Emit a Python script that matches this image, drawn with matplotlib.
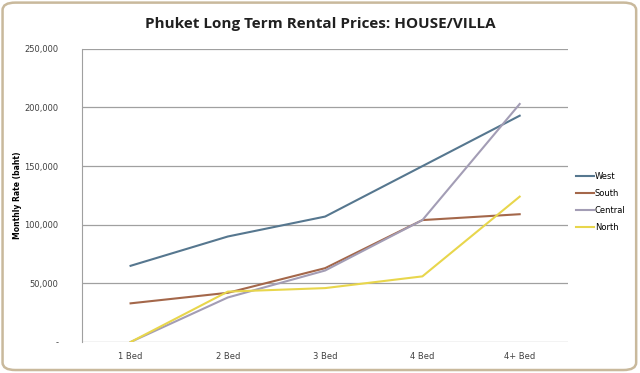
import numpy as np
import matplotlib.pyplot as plt
from matplotlib.patches import FancyBboxPatch
from matplotlib.ticker import FuncFormatter

categories = ["1 Bed", "2 Bed", "3 Bed", "4 Bed", "4+ Bed"]
west = [65000, 90000, 107000, 150000, 193000]
south = [33000, 42000, 63000, 104000, 109000]
central = [0, 38000, 61000, 104000, 203000]
north = [0, 43000, 46000, 56000, 124000]

series = [("West", west, "#56778f"),
          ("South", south, "#a4674a"),
          ("Central", central, "#a39db5"),
          ("North", north, "#e8d64c")]

fig = plt.figure(figsize=(6.4, 3.73), dpi=100)
fig.patch.set_facecolor("white")

# beige rounded frame around the chart
frame = FancyBboxPatch((0.004, 0.008), 0.99, 0.985, boxstyle="round,pad=0,rounding_size=0.02",
                       transform=fig.transFigure, facecolor="none", edgecolor="#c9b99c", lw=1.8,
                       zorder=5)
fig.patches.append(frame)

ax = fig.add_axes([0.128, 0.083, 0.76, 0.786])
x = np.arange(len(categories))
for name, vals, col in series:
    ax.plot(x, vals, color=col, lw=1.5, label=name)

ax.set_xlim(-0.5, 4.5)
ax.set_ylim(0, 250000)
ax.set_yticks(np.arange(0, 250001, 50000))
ax.yaxis.set_major_formatter(FuncFormatter(lambda v, p: "-" if v == 0 else f"{int(v):,}"))
ax.set_xticks(x)
ax.set_xticklabels(categories)
ax.grid(axis="y", color="#a0a0a0", lw=0.9)
ax.set_axisbelow(True)
for s in ["top", "right", "bottom"]:
    ax.spines[s].set_visible(False)
ax.spines["left"].set_color("#a0a0a0")
ax.tick_params(length=0, labelsize=6, colors="#404040", pad=7)
ax.tick_params(axis="y", pad=17)

ax.set_ylabel("Monthly Rate (baht)", fontsize=5.5, fontweight="bold")
ax.yaxis.set_label_coords(-0.123, 0.5)
fig.text(0.5, 0.935, "Phuket Long Term Rental Prices: HOUSE/VILLA", ha="center", va="center",
         fontsize=11, fontweight="bold", family="Open Sans", color="#202020")

leg = ax.legend(loc="upper left", bbox_to_anchor=(1.0, 0.605), frameon=False, fontsize=6,
                handlelength=2.2, handletextpad=0.1, labelspacing=0.95)

fig.savefig("out.png", dpi=100)
